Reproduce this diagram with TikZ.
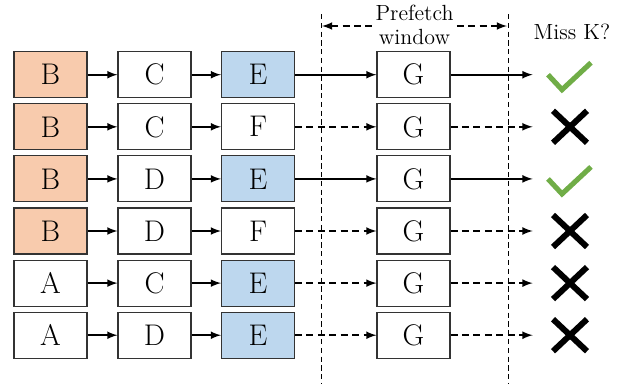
\documentclass[tikz,border=0pt]{standalone}
\usetikzlibrary{arrows}

\definecolor{colA}{HTML}{FFFFFF}
\definecolor{colB}{HTML}{F8CBAD}
\definecolor{colC}{HTML}{FFFFFF}
\definecolor{colD}{HTML}{FFFFFF}
\definecolor{colE}{HTML}{BDD7EE}
\definecolor{colF}{HTML}{FFFFFF}
\definecolor{hitgreen}{HTML}{70AD47}

\tikzset{
  blk/.style={draw=black!80, line width=0.6pt, minimum width=1.46cm, minimum height=0.92cm,
    inner sep=0pt, font=\fontsize{17}{20}\selectfont},
  hop/.style={-latex, line width=1pt},
  hopmiss/.style={hop, dash pattern=on 4pt off 2.5pt},
  winline/.style={line width=0.5pt, dash pattern=on 3pt off 2pt},
  lbl/.style={font=\fontsize{12.5}{13.8}\selectfont, align=center}
}

\begin{document}
\begin{tikzpicture}[x=0.02cm,y=-0.02cm]
    \useasboundingbox (0,0) rectangle (625,383);

    % Window borders
    \coordinate (wl top) at (321,14);
    \coordinate (wl bot) at (321,383);
    \coordinate (wr top) at (508,14);
    \coordinate (wr bot) at (508,383);
    \draw[winline] (wl top) -- (wl bot);
    \draw[winline] (wr top) -- (wr bot);

    % Window arrow and labels
    \coordinate (wl arr) at (322,26);
    \coordinate (wr arr) at (507,26);
    \draw[latex-latex, line width=1pt, dash pattern=on 4pt off 2.5pt] (wl arr) -- (wr arr);
    \node (win) [lbl, fill=white, inner sep=1pt] at (414.5,24.5) {Prefetch\\window};
    \node (miss) [lbl] at (572,32) {Miss K?};

    % Rows
    \foreach \r/\a/\b/\c/\lk in {1/B/C/E/hop, 2/B/C/F/hopmiss, 3/B/D/E/hop,
                                 4/B/D/F/hopmiss, 5/A/C/E/hopmiss, 6/A/D/E/hopmiss}
    {
      \pgfmathsetmacro{\y}{74.7+52.1*(\r-1)}
      \node (a\r) [blk, fill=col\a] at (50.5,\y) {\a};
      \node (b\r) [blk, fill=col\b] at (154.5,\y) {\b};
      \node (c\r) [blk, fill=col\c] at (258,\y) {\c};
      \node (g\r) [blk] at (413.5,\y) {G};
      \node (m\r) [inner sep=0pt, minimum width=1.48cm, minimum height=0.9cm] at (570,\y) {};
      \draw[hop] (a\r) -- (b\r);
      \draw[hop] (b\r) -- (c\r);
      \draw[\lk] (c\r) -- (g\r);
      \draw[\lk] (g\r) -- (m\r);
    };

    % Hits
    \foreach \r in {1,3}
    {
      \draw[hitgreen, line width=2.9pt]
        ([shift={(-22,0)}]m\r.center) -- ([shift={(-8,15)}]m\r.center) -- ([shift={(21,-12)}]m\r.center);
    };
    % Misses
    \foreach \r in {2,4,5,6}
    {
      \draw[line width=3.4pt] ([shift={(-17,-16)}]m\r.center) -- ([shift={(17,16)}]m\r.center);
      \draw[line width=3.4pt] ([shift={(-17,16)}]m\r.center) -- ([shift={(17,-16)}]m\r.center);
    };

\end{tikzpicture}
\end{document}
